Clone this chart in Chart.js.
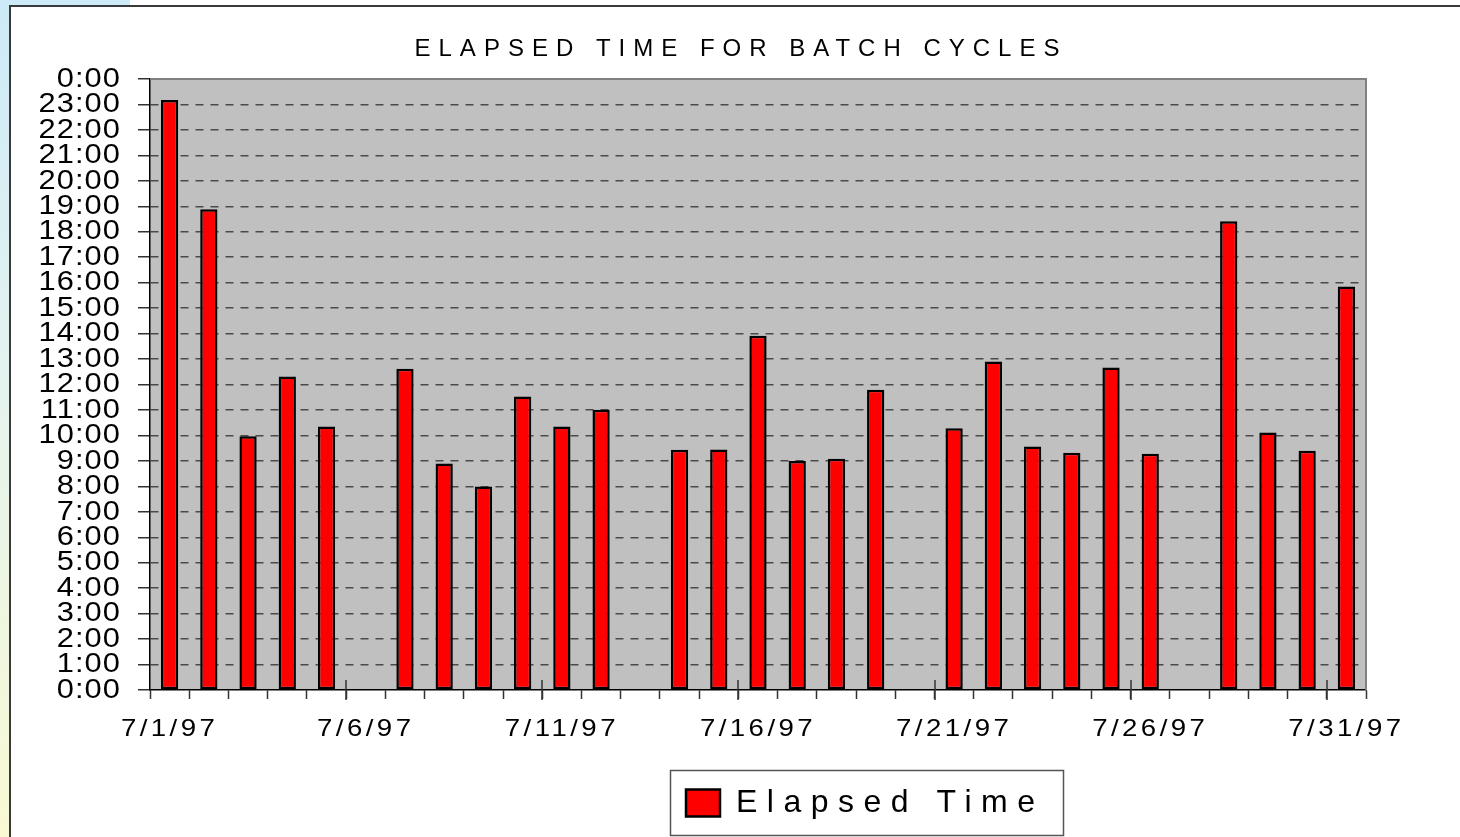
<!DOCTYPE html>
<html>
<head>
<meta charset="utf-8">
<script src="https://cdn.jsdelivr.net/npm/chart.js@4/dist/chart.umd.min.js"></script>
<style>
  html, body { margin: 0; padding: 0; width: 1460px; height: 837px; overflow: hidden; background: #ffffff; }
  #strip { position: absolute; left: 0; top: 0; width: 130px; height: 837px;
           background: linear-gradient(to bottom, #cdeaf8 0%, #e4f3ef 45%, #f9f9d3 100%); }
  #frame { position: absolute; left: 9px; top: 5px; width: 1470px; height: 850px; background: #ffffff;
           border-left: 2px solid #3a3a3a; border-top: 2px solid #3a3a3a; }
  #c { position: absolute; left: 0; top: 0; }
</style>
</head>
<body>
<div id="strip"></div>
<div id="frame"></div>
<canvas id="c" width="1460" height="837"></canvas>
<script>
// ---- data ----
const chartTitle = 'ELAPSED TIME FOR BATCH CYCLES';
const seriesName = 'Elapsed Time';
const categories = [
  '7/1/97','7/2/97','7/3/97','7/4/97','7/5/97','7/6/97','7/7/97','7/8/97','7/9/97','7/10/97',
  '7/11/97','7/12/97','7/13/97','7/14/97','7/15/97','7/16/97','7/17/97','7/18/97','7/19/97','7/20/97',
  '7/21/97','7/22/97','7/23/97','7/24/97','7/25/97','7/26/97','7/27/97','7/28/97','7/29/97','7/30/97','7/31/97'
];
// elapsed time in hours
const elapsedHours = [
  23.18, 18.88, 9.97, 12.31, 10.35, null, 12.62, 8.90, 7.99, 11.53,
  10.35, 11.01, null, 9.44, 9.45, 13.91, 9.00, 9.08, 11.79, null,
  10.28, 12.90, 9.56, 9.32, 12.67, 9.28, null, 18.41, 10.11, 9.40, 15.85
];
const xTickLabels = ['7/1/97','7/6/97','7/11/97','7/16/97','7/21/97','7/26/97','7/31/97'];
const yTickLabels = [
  '0:00','1:00','2:00','3:00','4:00','5:00','6:00','7:00','8:00','9:00','10:00','11:00','12:00',
  '13:00','14:00','15:00','16:00','17:00','18:00','19:00','20:00','21:00','22:00','23:00','0:00'
];

const FONT = "'Liberation Sans', Arial, sans-serif";

// tracked / widened text for each box, as in the original chart
const spacingPlugin = {
  id: 'spacing',
  beforeDraw(chart) {
    const wrap = (obj, method, spacing, sx, dxFn) => {
      if (!obj || obj['__w_' + method]) return;
      const orig = obj[method];
      obj[method] = function (...args) {
        const c = chart.ctx;
        c.save();
        c.letterSpacing = spacing + 'px';
        if (dxFn) c.translate(dxFn(this), 0);
        if (sx !== 1) {
          const fill = CanvasRenderingContext2D.prototype.fillText;
          c.fillText = function (t, x, y) {
            this.save();
            this.translate(x, y);
            this.scale(sx, 1);
            fill.call(this, t, 0, 0);
            this.restore();
          };
        }
        let r;
        try { r = orig.apply(this, args); }
        finally { delete c.fillText; c.restore(); }
        return r;
      };
      obj['__w_' + method] = true;
    };
    wrap(chart.titleBlock, 'draw', 8, 1, b => 741 - (b.left + b.right) / 2);
    wrap(chart.legend, 'draw', 9.5, 1, b => legendShift(b));
    wrap(chart.scales.x, 'drawLabels', 3, 1.15);
    wrap(chart.scales.y, 'drawLabels', 1, 1.1);
  }
};
function legendShift(b) {
  const hb = b.legendHitBoxes && b.legendHitBoxes[0];
  if (!hb) return 0;
  return 686 - hb.left;
}

const framePlugin = {
  id: 'plotFrame',
  beforeDraw(chart) {
    const { ctx, chartArea: a } = chart;
    ctx.save();
    ctx.fillStyle = '#c0c0c0';
    ctx.fillRect(a.left, a.top, a.right - a.left, a.bottom - a.top);
    ctx.restore();
  },
  afterDatasetsDraw(chart) {
    const { ctx, chartArea: a } = chart;
    const xs = chart.scales.x;
    ctx.save();
    ctx.strokeStyle = '#808080';
    ctx.lineWidth = 2;
    ctx.beginPath();
    ctx.moveTo(a.left, a.top);
    ctx.lineTo(a.right, a.top);
    ctx.lineTo(a.right, a.bottom);
    ctx.stroke();
    // major ticks every 5 categories
    const cat = xs.getPixelForValue(1) - xs.getPixelForValue(0);
    ctx.strokeStyle = '#333';
    ctx.lineWidth = 1.5;
    for (let k = 5; k <= categories.length; k += 5) {
      const x = Math.round(xs.getPixelForValue(k) - cat / 2);
      ctx.beginPath();
      ctx.moveTo(x, a.bottom - 10);
      ctx.lineTo(x, a.bottom + 10);
      ctx.stroke();
    }
    ctx.restore();
  },
  afterDraw(chart) {
    const { ctx } = chart;
    ctx.save();
    ctx.strokeStyle = '#555';
    ctx.lineWidth = 1.5;
    ctx.strokeRect(670.5, 770.5, 393, 65);
    ctx.restore();
  }
};

new Chart(document.getElementById('c'), {
  type: 'bar',
  data: {
    labels: categories,
    datasets: [{
      label: seriesName,
      data: elapsedHours,
      backgroundColor: '#ff0000',
      borderColor: '#000000',
      borderWidth: 2.5,
      borderSkipped: false,
      barPercentage: 0.44,
      categoryPercentage: 1
    }]
  },
  options: {
    responsive: false,
    animation: false,
    layout: { padding: { left: 0, right: 94, top: 0, bottom: 8 } },
    plugins: {
      tooltip: { enabled: false },
      title: {
        display: true,
        text: chartTitle,
        color: '#000',
        font: { family: FONT, size: 24, weight: 'normal', lineHeight: 1.0 },
        padding: { top: 37, bottom: 18 }
      },
      legend: {
        position: 'bottom',
        labels: {
          color: '#000',
          font: { family: FONT, size: 32 },
          boxWidth: 34,
          boxHeight: 27,
          padding: 0
        }
      }
    },
    scales: {
      x: {
        grid: { offset: true, drawOnChartArea: false, tickLength: 9, tickColor: '#333', tickWidth: 1.5 },
        border: { color: '#000', width: 1.5 },
        ticks: {
          autoSkip: false, maxRotation: 0, minRotation: 0, padding: 16,
          color: '#000', font: { family: FONT, size: 24 },
          callback: (v, i) => xTickLabels.includes(categories[i]) ? categories[i] : ''
        },
        afterFit: s => { s.height = 97; }
      },
      y: {
        min: 0, max: 24,
        grid: {
          color: c => (c.tick && (c.tick.value === 0 || c.tick.value === 24)) ? 'rgba(0,0,0,0)' : '#4a4a4a',
          lineWidth: 1.5, tickLength: 12, tickColor: '#333', tickWidth: 1.5
        },
        border: { color: '#000', width: 1.5, dash: [8, 7] },
        ticks: {
          autoSkip: false, stepSize: 1, padding: 17, color: '#000',
          font: { family: FONT, size: 28 },
          callback: (v, i) => yTickLabels[i]
        },
        afterFit: s => { s.width = 150; }
      }
    }
  },
  plugins: [spacingPlugin, framePlugin]
});
</script>
</body>
</html>
